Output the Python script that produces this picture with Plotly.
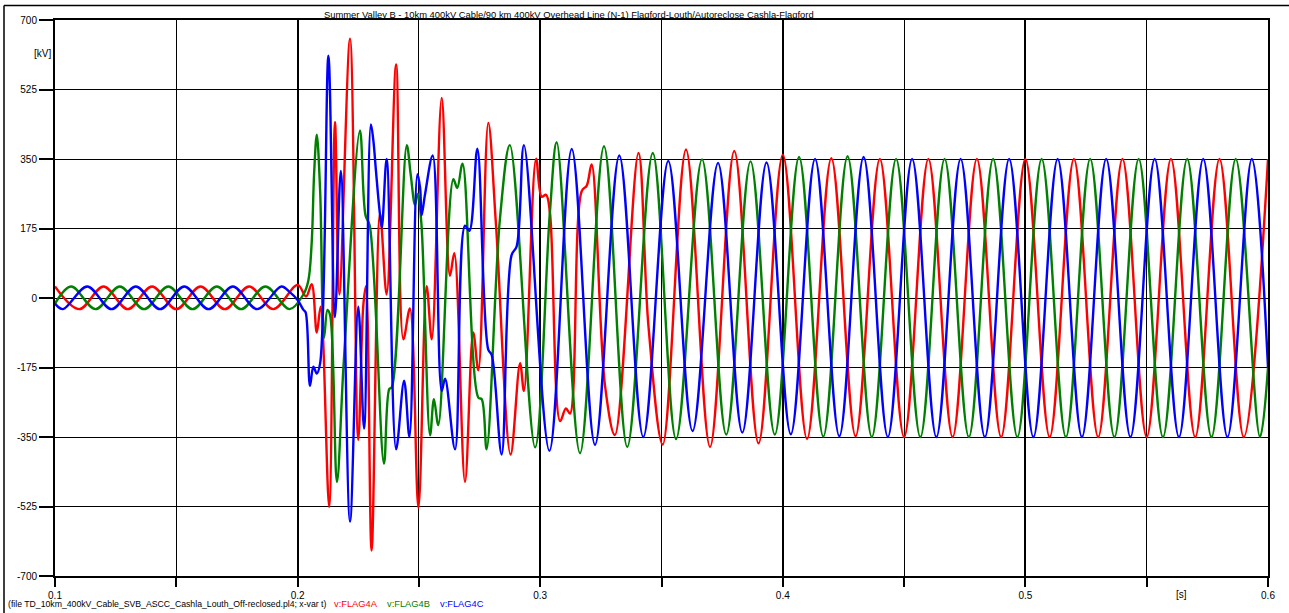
import plotly.graph_objects as go

# ---------------- data ----------------
# Phase A (red) : time [s], voltage [kV]
t_a = [0.1000, 0.1100, 0.1200, 0.1300, 0.1400, 0.1500, 0.1600, 0.1700, 0.1800, 0.1900, 0.2000,
       0.2035, 0.2058, 0.2079, 0.2095, 0.2130, 0.2154, 0.2172, 0.2216, 0.2250, 0.2271, 0.2282,
       0.2305, 0.2340, 0.2367, 0.2406, 0.2436, 0.2463, 0.2498, 0.2532, 0.2553, 0.2594, 0.2628,
       0.2646, 0.2690, 0.2724, 0.2745, 0.2786, 0.2818, 0.2878, 0.2917, 0.2933, 0.2983, 0.3006,
       0.3024, 0.3040, 0.3082, 0.3106, 0.3123, 0.3171, 0.3192, 0.3212, 0.3267, 0.3308, 0.3405,
       0.3446, 0.3505, 0.3601,
       0.3700, 0.3800, 0.3900, 0.4000, 0.4100, 0.4200, 0.4300, 0.4400, 0.4500, 0.4600, 0.4700,
       0.4800, 0.4900, 0.5000, 0.5100, 0.5200, 0.5300, 0.5400, 0.5500, 0.5600, 0.5700, 0.5800,
       0.5900, 0.6000]
v_a = [29, -28, 29, -28, 29, -28, 29, -28, 29, -28, 33,
       4, 35, -87, -22, -526, 443, 9, 653, -357, -17, 30,
       -636, 212, 9, 588, -104, -26, -528, 30, -104, 504, 56,
       113, -463, -87, -182, 441, 182, -394, -164, -234, 351, 255,
       260, 216, -310, -278, -291, 269, 283, 336, -220, -345, 365,
       -69, -369, 374,
       -375, 370, -366, 361, -355, 352, -348, 350, -350, 350, -350,
       350, -350, 350, -350, 350, -350, 350, -350, 350, -350, 350,
       -350, 350]

# Phase B (green)
t_b = [0.1000, 0.1067, 0.1167, 0.1267, 0.1367, 0.1467, 0.1567, 0.1667, 0.1767, 0.1867, 0.1967,
       0.2024, 0.2044, 0.2058, 0.2068, 0.2079, 0.2093, 0.2109, 0.2123, 0.2134, 0.2162, 0.2190,
       0.2257, 0.2280, 0.2297, 0.2356, 0.2378, 0.2388, 0.2450, 0.2466, 0.2484, 0.2495, 0.2510,
       0.2546, 0.2562, 0.2580, 0.2642, 0.2658, 0.2680, 0.2745, 0.2759, 0.2779, 0.2834, 0.2875,
       0.2979, 0.3040,
       0.3068, 0.3164, 0.3263, 0.3359, 0.3464, 0.3560, 0.3667, 0.3767, 0.3867, 0.3967, 0.4067,
       0.4167, 0.4267, 0.4367, 0.4467, 0.4567, 0.4667, 0.4767, 0.4867, 0.4967, 0.5067, 0.5167,
       0.5267, 0.5367, 0.5467, 0.5567, 0.5667, 0.5767, 0.5867, 0.5967, 0.6000]
v_b = [-14, 29, -28, 29, -28, 29, -28, 29, -28, 29, -28,
       9, 43, 138, 312, 411, 268, -100, -30, -43, -463, -164,
       422, 208, 183, -417, -229, -225, 385, 312, 234, 262, 190,
       -346, -255, -320, 299, 277, 338, -251, -255, -381, 199, 385,
       -376, 216,
       392, -391, 382, -375, 365, -355, 349, -344, 344, -344, 355,
       -349, 357, -350, 350, -350, 350, -350, 350, -350, 350, -350,
       350, -350, 350, -350, 350, -350, 350, -350, -175]

# Phase C (blue)
t_c = [0.1000, 0.1033, 0.1133, 0.1233, 0.1333, 0.1433, 0.1533, 0.1633, 0.1733, 0.1833, 0.1933,
       0.1969, 0.2000, 0.2024, 0.2033, 0.2051, 0.2065, 0.2079, 0.2093, 0.2127, 0.2154, 0.2178,
       0.2216, 0.2250, 0.2274, 0.2302, 0.2312, 0.2323, 0.2337, 0.2347, 0.2367, 0.2406, 0.2439,
       0.2461, 0.2494, 0.2505, 0.2511, 0.2525, 0.2557, 0.2594, 0.2608, 0.2649, 0.2690, 0.2708,
       0.2741, 0.2786, 0.2800, 0.2841, 0.2882, 0.2903, 0.2933, 0.3038,
       0.3130, 0.3226, 0.3326, 0.3425, 0.3528, 0.3628, 0.3733, 0.3833, 0.3933, 0.4033, 0.4133,
       0.4233, 0.4333, 0.4433, 0.4533, 0.4633, 0.4733, 0.4833, 0.4933, 0.5033, 0.5133, 0.5233,
       0.5333, 0.5433, 0.5533, 0.5633, 0.5733, 0.5833, 0.5933, 0.6000]
v_c = [-14, -28, 29, -28, 29, -28, 29, -28, 29, -28, 29,
       14, -5, -30, -36, -221, -173, -190, -164, 610, -48, 320,
       -563, -22, -329, 437, 398, 320, 225, 177, 350, -381, -208,
       -350, 312, 277, 208, 260, 359, -234, -203, -381, 182, 169,
       376, -130, -143, -394, 108, 130, 385, -385,
       375, -370, 359, -350, 345, -335, 340, -339, 341, -343, 350,
       -348, 355, -350, 350, -350, 350, -350, 350, -350, 350, -350,
       350, -350, 350, -350, 350, -350, 350, -175]

y_ticks = [700, 525, 350, 175, 0, -175, -350, -525, -700]
y_tick_labels = ["700", "525", "350", "175", "0", "-175", "-350", "-525", "-700"]
x_ticks = [0.1, 0.2, 0.3, 0.4, 0.5, 0.6]
x_tick_labels = ["0.1", "0.2", "0.3", "0.4", "0.5", "0.6"]

title_text = ("Summer Valley B - 10km 400kV Cable/90 km 400kV Overhead Line (N-1) "
              "Flagford-Louth/Autoreclose Cashla-Flagford")
file_text = "(file TD_10km_400kV_Cable_SVB_ASCC_Cashla_Louth_Off-reclosed.pl4; x-var t)"
series_names = ["v:FLAG4A", "v:FLAG4B", "v:FLAG4C"]
series_colors = ["#ff0000", "#008000", "#0000ff"]

# ---------------- figure ----------------
FONT = "Liberation Sans, Arial, sans-serif"
fig = go.Figure()
for t, v, name, col in zip([t_a, t_b, t_c], [v_a, v_b, v_c], series_names, series_colors):
    fig.add_trace(go.Scatter(x=t, y=v, mode="lines", name=name,
                             line=dict(color=col, width=2.4, shape="spline", smoothing=1),
                             showlegend=False, hoverinfo="skip"))

W, H = 1289, 613
ML, MR, MT, MB = 55, 21, 20, 37
fig.update_layout(
    width=W, height=H,
    margin=dict(l=ML, r=MR, t=MT, b=MB),
    paper_bgcolor="white", plot_bgcolor="white",
    font=dict(family=FONT, size=10, color="black"),
    xaxis=dict(range=[0.1, 0.6], tickvals=x_ticks, ticktext=x_tick_labels,
               ticks="outside", ticklen=9, tickwidth=2, tickcolor="black",
               showgrid=True, gridcolor="black", gridwidth=2,
               showline=True, linecolor="black", linewidth=2, mirror=True,
               zeroline=False,
               minor=dict(dtick=0.05, tick0=0.1, ticks="outside", ticklen=9, tickwidth=2,
                          tickcolor="black", showgrid=True, gridcolor="black", gridwidth=1),
               tickfont=dict(size=10)),
    yaxis=dict(range=[-700, 700], tickvals=y_ticks, ticktext=y_tick_labels,
               ticks="outside", ticklen=14, tickwidth=2, tickcolor="black",
               showgrid=True, gridcolor="black", gridwidth=1.3,
               showline=True, linecolor="black", linewidth=2, mirror=True,
               zeroline=False, tickfont=dict(size=10)),
)

pw = W - ML - MR
ph = H - MT - MB
def px2x(px):
    return (px - ML) / pw
def py2y(py):
    return (H - MB - py) / ph

ann = []
ann.append(dict(text=title_text, xref="paper", yref="paper", x=px2x(569), y=py2y(14),
                xanchor="center", yanchor="middle", showarrow=False, font=dict(size=9.4)))
ann.append(dict(text="[kV]", xref="paper", yref="paper", x=px2x(53), y=py2y(54),
                xanchor="right", yanchor="middle", showarrow=False, font=dict(size=10)))
ann.append(dict(text="[s]", xref="x", yref="paper", x=0.5645, y=py2y(594),
                xanchor="center", yanchor="middle", showarrow=False, font=dict(size=10)))
ann.append(dict(text=file_text, xref="paper", yref="paper", x=px2x(6), y=py2y(604),
                xanchor="left", yanchor="middle", showarrow=False, font=dict(size=8.7)))
for name, col, px in zip(series_names, series_colors, [332, 385, 438]):
    ann.append(dict(text=name, xref="paper", yref="paper", x=px2x(px), y=py2y(604),
                    xanchor="left", yanchor="middle", showarrow=False,
                    font=dict(size=9.3, color=col)))
fig.update_layout(annotations=ann)

# outer frame (left and top edges)
fig.add_shape(type="line", xref="paper", yref="paper", x0=px2x(4), x1=px2x(4),
              y0=py2y(5.5), y1=py2y(613), line=dict(color="black", width=1.5))
fig.add_shape(type="line", xref="paper", yref="paper", x0=px2x(4), x1=px2x(1289),
              y0=py2y(5.5), y1=py2y(5.5), line=dict(color="black", width=1.5))

fig.write_html("out.html")
